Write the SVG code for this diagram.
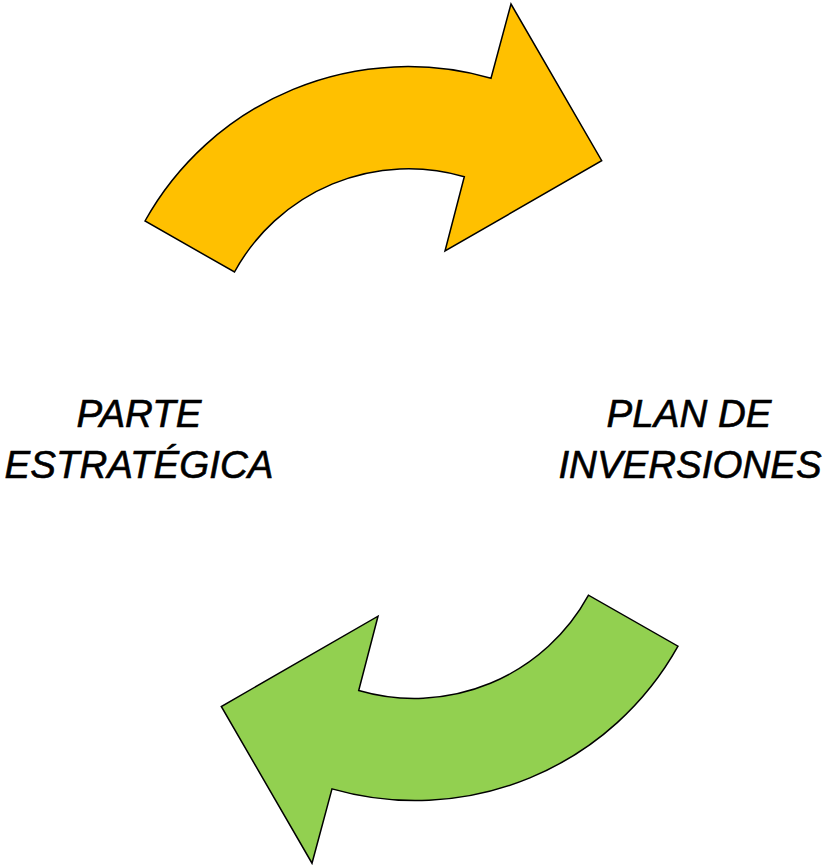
<svg xmlns="http://www.w3.org/2000/svg" width="823" height="866" viewBox="0 0 823 866">
  <style>
    .arrow { stroke: #000; stroke-width: 1.5; stroke-linejoin: miter; }
    .lbl { font-family: "Liberation Sans", Arial, sans-serif; font-style: italic; font-size: 38.5px; fill: #000; stroke: #000; stroke-width: 0.6; text-anchor: middle; }
  </style>
  <defs>
    <path id="curvedArrow" d="M 145,221 A 301 301 0 0 1 491,78.3 L 511,4 L 601.7,160.7 L 445,251 L 464.3,176.7 A 198.5 198.5 0 0 0 234.5,272 Z"/>
  </defs>
  <rect width="823" height="866" fill="#fff"/>
  <g id="connectors">
    <g id="arrow-top">
      <use href="#curvedArrow" class="arrow" fill="#FFC000"/>
    </g>
    <g id="arrow-bottom">
      <use href="#curvedArrow" class="arrow" fill="#92D050" transform="rotate(180 411.5 433.6)"/>
    </g>
  </g>
  <g id="node-parte">
    <text class="lbl" x="139" y="427">PARTE</text>
    <text class="lbl" x="139" y="478">ESTRATÉGICA</text>
  </g>
  <g id="node-plan">
    <text class="lbl" x="689" y="427">PLAN DE</text>
    <text class="lbl" x="690" y="478">INVERSIONES</text>
  </g>
</svg>
